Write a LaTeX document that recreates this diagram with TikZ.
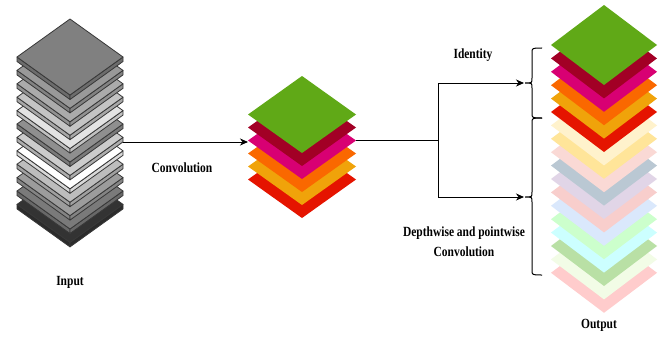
\documentclass[tikz,border=0pt]{standalone}
\usepackage{fontspec}
\newfontfamily\lblfont[FakeStretch=0.82]{Liberation Serif}
\usetikzlibrary{arrows.meta}

\definecolor{cGreen}{HTML}{60A917}
\definecolor{cDRed}{HTML}{A20025}
\definecolor{cMag}{HTML}{D80073}
\definecolor{cOrg}{HTML}{FA6800}
\definecolor{cAmb}{HTML}{F0A30A}
\definecolor{cRed}{HTML}{E51400}
\definecolor{cLYel}{HTML}{FFF2CC}
\definecolor{cLAmb}{HTML}{FFE599}
\definecolor{cPnk}{HTML}{FAD9D5}
\definecolor{cBGr}{HTML}{BAC8D3}
\definecolor{cLav}{HTML}{E1D5E7}
\definecolor{cPnkB}{HTML}{F8CECC}
\definecolor{cLBlu}{HTML}{DAE8FC}
\definecolor{cLGrn}{HTML}{CCFFCC}
\definecolor{cCyan}{HTML}{CCFFFF}
\definecolor{cMGrn}{HTML}{B9E0A5}
\definecolor{cVLGrn}{HTML}{F2FCE6}
\definecolor{cPnkC}{HTML}{FFCCCC}

\tikzset{
  lbl/.style={font={\lblfont\bfseries\fontsize{14}{20}\selectfont}, align=center, inner sep=0pt},
  conn/.style={line width=1pt, draw=black},
  arr/.style={conn, -{Stealth[length=8pt,width=7pt,inset=2.5pt]}},
  brc/.style={line width=1pt, draw=black},
  slabedge/.style={draw=black!78, line width=0.8pt, line join=round},
}

\begin{document}
\begin{tikzpicture}[x=1pt,y=-1pt]
\useasboundingbox[fill=white] (0,0) rectangle (666,337);

% ---------- input stack (3D grey slabs) ----------
\foreach \p [count=\i from 0] in {80,52,39,26,0,20,44,11,23,33,40,50} {
  \pgfmathsetmacro\cy{57+13.4*(11-\i)}
  \pgfmathsetmacro\q{\p+(100-\p)*0.15}
  \filldraw[slabedge, fill=black!\q] (17,\cy) -- (70,{\cy+38}) -- (70,{\cy+42.5}) -- (17,{\cy+4.5}) -- cycle;
  \filldraw[slabedge, fill=black!\q] (70,{\cy+38}) -- (123,\cy) -- (123,{\cy+4.5}) -- (70,{\cy+42.5}) -- cycle;
  \filldraw[slabedge, fill=black!\p] (17,\cy) -- (70,{\cy-38}) -- (123,\cy) -- (70,{\cy+38}) -- cycle;
}

% ---------- middle stack ----------
\foreach \c [count=\i from 0] in {cRed,cAmb,cOrg,cMag,cDRed,cGreen} {
  \pgfmathsetmacro\cy{114.5+13*(5-\i)}
  \fill[\c] (248,\cy) -- (302,{\cy-38.5}) -- (356,\cy) -- (302,{\cy+38.5}) -- cycle;
}

% ---------- output stack ----------
\foreach \c [count=\i from 0] in {cPnkC,cVLGrn,cMGrn,cCyan,cLGrn,cLBlu,cPnkB,cLav,cBGr,cPnk,cLAmb,cLYel,cRed,cAmb,cOrg,cMag,cDRed,cGreen} {
  \pgfmathsetmacro\cy{45+13.4*(17-\i)}
  \fill[\c] (551,\cy) -- (604,{\cy-40}) -- (657,\cy) -- (604,{\cy+40}) -- cycle;
}

% ---------- braces ----------
\draw[brc] (542,48) .. controls (532,48) .. (532,53) -- (532,78)
  .. controls (532,83) .. (525,83) .. controls (532,83) .. (532,88)
  -- (532,113) .. controls (532,118) .. (542,118);
\draw[brc] (542,118) .. controls (532,118) .. (532,123) -- (532,192)
  .. controls (532,197) .. (525,197) .. controls (532,197) .. (532,202)
  -- (532,270) .. controls (532,275) .. (542,275);

% ---------- connector points ----------
\coordinate (inR) at (123,142);
\coordinate (midL) at (248,142);
\coordinate (midR) at (356,140);
\coordinate (fork) at (438,140);
\coordinate (b1tip) at (524,83);
\coordinate (b2tip) at (524,197);

\draw[arr] (inR) -- (midL);
\draw[conn] (midR) -- (fork);
\draw[arr] (fork) |- (b1tip);
\draw[arr] (fork) |- (b2tip);

% ---------- labels ----------
\node[lbl] (lIn) at (70,282) {Input};
\node[lbl] (lConv) at (182,168) {Convolution};
\node[lbl] (lId) at (473,55) {Identity};
\node[lbl] (lDw) at (464,242) {Depthwise and pointwise\\Convolution};
\node[lbl] (lOut) at (599,325) {Output};
\end{tikzpicture}
\end{document}
